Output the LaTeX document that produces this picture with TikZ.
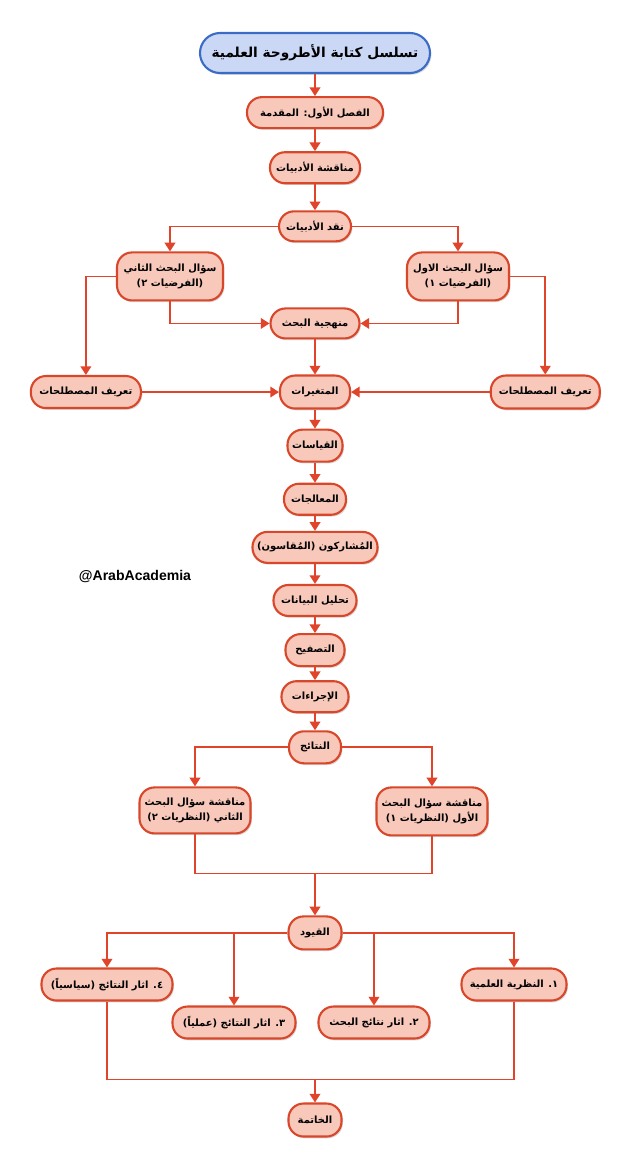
\documentclass[tikz,border=0pt]{standalone}
\usepackage{fontspec}
\setmainfont{Liberation Sans}
\newfontfamily\arabicfont[Script=Arabic]{DejaVu Sans}
\TeXXeTstate=1
\usepackage{tikz}
\usetikzlibrary{arrows.meta,positioning,shadows}
\definecolor{boxline}{HTML}{D9472B}
\definecolor{boxfill}{HTML}{F8C8BA}
\definecolor{titleline}{HTML}{3A6CC6}
\definecolor{titlefill}{HTML}{CAD8F6}
\definecolor{linkred}{HTML}{E0442A}
\newcommand{\artxt}[1]{{\arabicfont\bfseries\beginR #1\endR}}

\begin{document}
\begin{tikzpicture}[
  box/.style={draw=boxline, fill=boxfill, line width=1.8pt, rounded corners=0.45cm,
    minimum height=0.93cm, inner sep=2pt, align=center,
    font=\fontsize{8.5}{12}\selectfont,
    drop shadow={shadow xshift=1.2pt, shadow yshift=-1.5pt, opacity=0.3}},
  titlebox/.style={box, draw=titleline, fill=titlefill, rounded corners=0.6cm,
    font=\fontsize{11.7}{14}\selectfont},
  arr/.style={-{Triangle[width=0.32cm,length=0.26cm]}, linkred, line width=1.4pt},
  link/.style={linkred, line width=1.4pt}
]
  \useasboundingbox (0,0) rectangle (18.93,-35.1);

  % main spine
  \node[titlebox, minimum width=6.9cm, minimum height=1.2cm] (title) at (9.45,-1.59) {\artxt{تسلسل كتابة الأطروحة العلمية}};
  \node[box, minimum width=4.08cm, below=0.66cm of title] (intro) {\artxt{الفصل الأول: المقدمة}};
  \node[box, minimum width=2.7cm, below=0.66cm of intro] (lit) {\artxt{مناقشة الأدبيات}};
  \node[box, minimum width=2.16cm, minimum height=0.9cm, below=0.78cm of lit] (crit) {\artxt{نقد الأدبيات}};

  % research questions
  \node[box, minimum width=3.18cm, minimum height=1.44cm, below=0.27cm of crit, xshift=-4.35cm] (sq2)
    {\artxt{سؤال البحث الثاني}\\\artxt{(الفرضيات ٢)}};
  \node[box, minimum width=3.06cm, minimum height=1.44cm, below=0.27cm of crit, xshift=4.29cm] (sq1)
    {\artxt{سؤال البحث الاول}\\\artxt{(الفرضيات ١)}};

  \node[box, minimum width=2.67cm, minimum height=0.9cm, below=1.95cm of crit] (method) {\artxt{منهجية البحث}};
  \node[box, minimum width=2.1cm, minimum height=0.99cm, below=1.05cm of method] (vars) {\artxt{المتغيرات}};
  \node[box, minimum width=3.3cm, minimum height=0.96cm, left=4.11cm of vars] (defL) {\artxt{تعريف المصطلحات}};
  \node[box, minimum width=3.27cm, minimum height=0.99cm, right=4.16cm of vars] (defR) {\artxt{تعريف المصطلحات}};

  \node[box, minimum width=1.65cm, minimum height=0.96cm, below=0.57cm of vars] (meas) {\artxt{القياسات}};
  \node[box, minimum width=1.86cm, below=0.6cm of meas] (treat) {\artxt{المعالجات}};
  \node[box, minimum width=3.75cm, below=0.45cm of treat] (part) {\artxt{المُشاركون (المُقاسون)}};
  \node[box, minimum width=2.49cm, below=0.6cm of part] (anal) {\artxt{تحليل البيانات}};
  \node[box, minimum width=1.77cm, minimum height=0.96cm, below=0.48cm of anal] (filt) {\artxt{التصفيح}};
  \node[box, minimum width=2.01cm, below=0.39cm of filt] (proc) {\artxt{الإجراءات}};
  \node[box, minimum width=1.56cm, minimum height=0.96cm, below=0.51cm of proc] (res) {\artxt{النتائج}};

  % discussion
  \node[box, minimum width=3.33cm, minimum height=1.38cm, below=0.66cm of res, xshift=-3.6cm] (disc2)
    {\artxt{مناقشة سؤال البحث}\\\artxt{الثاني (النظريات ٢)}};
  \node[box, minimum width=3.33cm, minimum height=1.44cm, below=0.66cm of res, xshift=3.51cm] (disc1)
    {\artxt{مناقشة سؤال البحث}\\\artxt{الأول (النظريات ١)}};

  \node[box, minimum width=1.59cm, minimum height=0.99cm, below=4.53cm of res] (qyood) {\artxt{القيود}};
  \node[box, minimum width=3.93cm, minimum height=0.96cm, below=0.51cm of qyood, xshift=-6.24cm] (eff4) {\artxt{٤. اثار النتائج (سياسياً)}};
  \node[box, minimum width=3.69cm, minimum height=0.96cm, below=1.65cm of qyood, xshift=-2.43cm] (eff3) {\artxt{٣. اثار النتائج (عملياً)}};
  \node[box, minimum width=3.33cm, minimum height=0.96cm, below=1.65cm of qyood, xshift=1.77cm] (eff2) {\artxt{٢. اثار نتائج البحث}};
  \node[box, minimum width=3.15cm, minimum height=0.96cm, below=0.51cm of qyood, xshift=5.97cm] (eff1) {\artxt{١. النظرية العلمية}};
  \node[box, minimum width=1.59cm, minimum height=0.99cm, below=4.56cm of qyood] (khatima) {\artxt{الخاتمة}};

  \node[font=\bfseries\fontsize{12}{14}\selectfont] (tag) at (4.05,-17.31) {@ArabAcademia};

  \coordinate (mergeA) at ([yshift=1.26cm]qyood.north);
  \coordinate (mergeB) at ([yshift=0.69cm]khatima.north);

  \draw[arr] (title) -- (intro);
  \draw[arr] (intro) -- (lit);
  \draw[arr] (lit) -- (crit);
  \draw[arr] (crit) -| (sq2);
  \draw[arr] (crit) -| (sq1);
  \draw[arr] (sq2) |- (method);
  \draw[arr] (sq1) |- (method);
  \draw[arr] (sq2) -| (defL);
  \draw[arr] (sq1) -| (defR);
  \draw[arr] (method) -- (vars);
  \draw[arr] (defL) -- (vars);
  \draw[arr] (defR) -- (vars);
  \draw[arr] (vars) -- (meas);
  \draw[arr] (meas) -- (treat);
  \draw[arr] (treat) -- (part);
  \draw[arr] (part) -- (anal);
  \draw[arr] (anal) -- (filt);
  \draw[arr] (filt) -- (proc);
  \draw[arr] (proc) -- (res);
  \draw[arr] (res) -| (disc2);
  \draw[arr] (res) -| (disc1);
  \draw[link] (disc2) |- (mergeA) -| (disc1);
  \draw[arr] (mergeA) -- (qyood);
  \draw[arr] (qyood) -| (eff4);
  \draw[arr] (qyood) -| (eff3);
  \draw[arr] (qyood) -| (eff2);
  \draw[arr] (qyood) -| (eff1);
  \draw[link] (eff4) |- (mergeB) -| (eff1);
  \draw[arr] (mergeB) -- (khatima);
\end{tikzpicture}
\end{document}
